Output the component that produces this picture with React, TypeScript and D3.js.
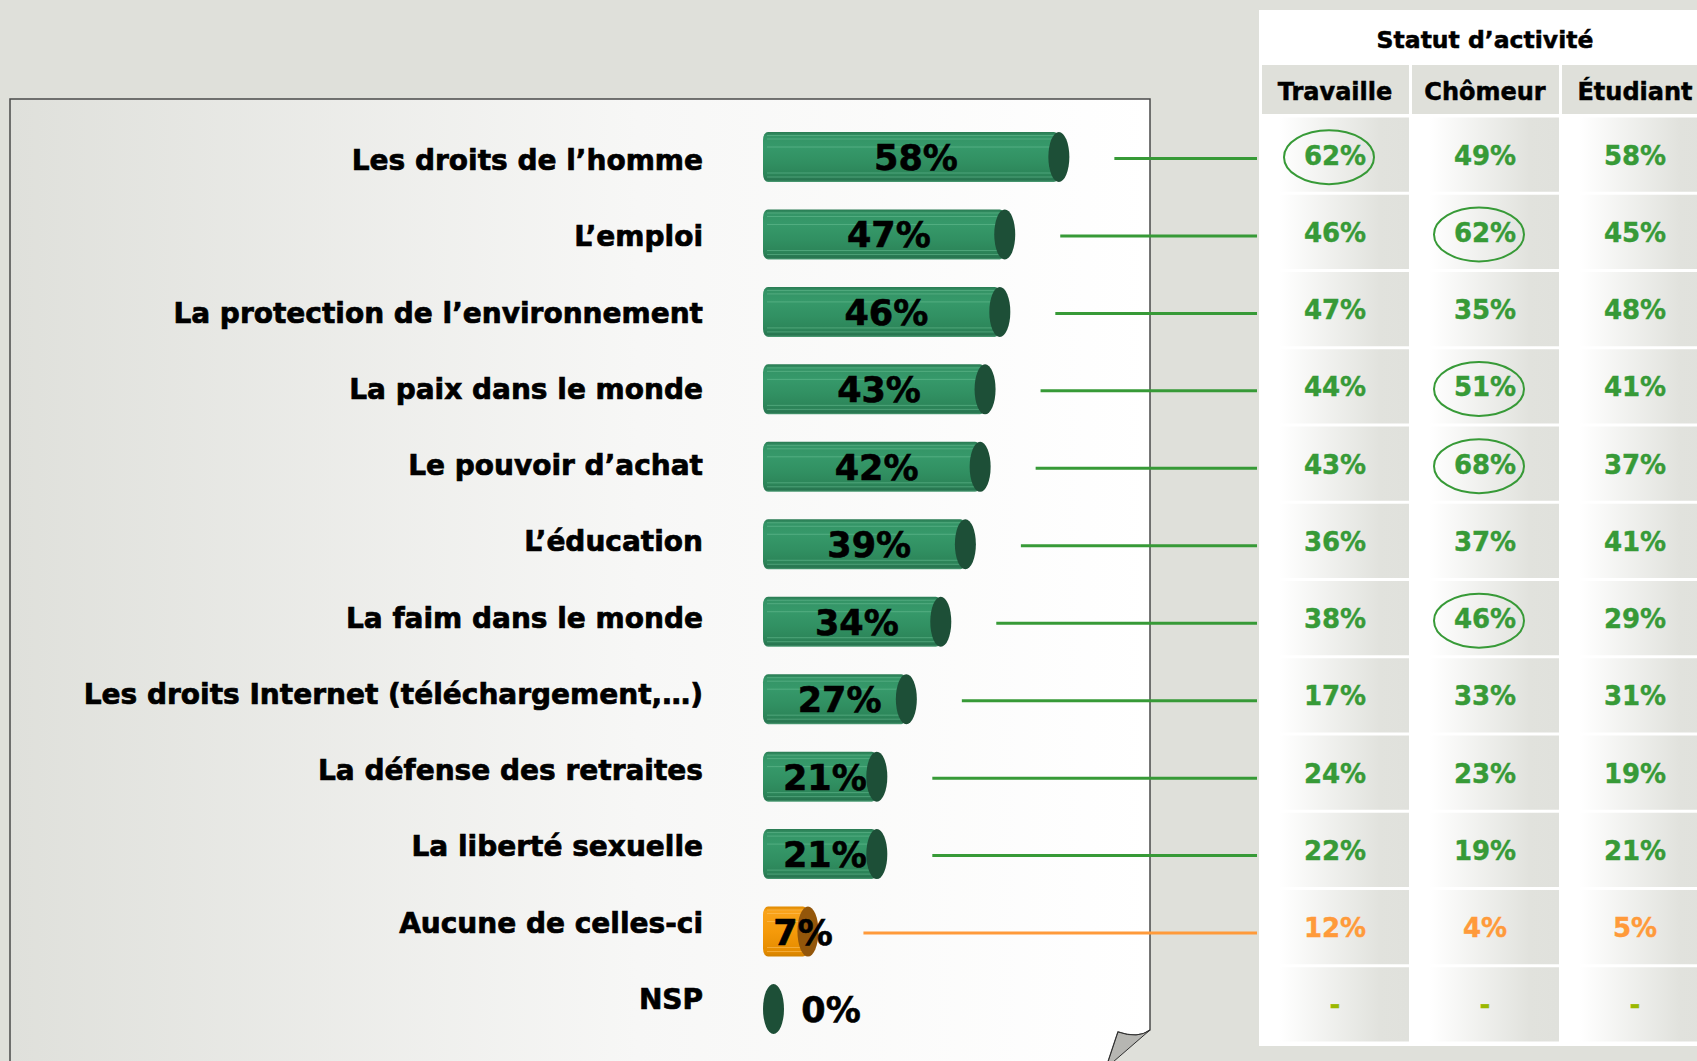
import React from 'react';
import * as d3 from 'd3';

// valeurs
const categories = [
  'Les droits de l\u2019homme',
  'L\u2019emploi',
  'La protection de l\u2019environnement',
  'La paix dans le monde',
  'Le pouvoir d\u2019achat',
  'L\u2019éducation',
  'La faim dans le monde',
  'Les droits Internet (téléchargement,\u2026)',
  'La défense des retraites',
  'La liberté sexuelle',
  'Aucune de celles-ci',
  'NSP',
];
const ensemble = [58, 47, 46, 43, 42, 39, 34, 27, 21, 21, 7, 0];
const kinds = ['g', 'g', 'g', 'g', 'g', 'g', 'g', 'g', 'g', 'g', 'o', 'n'];

const columns = ['Travaille', 'Chômeur', 'Étudiant'];
const travaille = [62, 46, 47, 44, 43, 36, 38, 17, 24, 22, 12, null];
const chomeur = [49, 62, 35, 51, 68, 37, 46, 33, 23, 19, 4, null];
const etudiant = [58, 45, 48, 41, 37, 41, 29, 31, 19, 21, 5, null];
const tableValues = [travaille, chomeur, etudiant];
// cellules entourées : [ligne, colonne]
const circled = [[0, 0], [1, 1], [3, 1], [4, 1], [6, 1]];

const title = 'Statut d\u2019activité';

const W = 1697;
const H = 1061;
const FONT = '"DejaVu Sans", Verdana, sans-serif';
const BG = '#dfe0da';
const GREEN = '#379a37';
const ORANGE = '#ff9a3a';
const DASH = '#9ab800';

const App = () => {
  const idx = categories.map((_, i) => i);

  // lignes
  const barY = d3.scalePoint<number>().domain(idx).range([157, 1009]);
  const labelY = d3.scalePoint<number>().domain(idx).range([160, 999]);
  const rowBand = d3.scaleBand<number>().domain(idx).range([116, 1043]);
  const colBand = d3.scaleBand<string>().domain(columns).range([1261, 1711]);

  // longueur des barres
  const x0 = 763;
  const capRx = 10.5;
  const barH = 50;
  const len = d3.scaleLinear().domain([0, 100]).range([0, 492]);
  const tableLeft = 1259;

  const colorsFor = (k: string) =>
    k === 'o'
      ? { grad: 'url(#barO)', cap: '#93560a', line: ORANGE, stripe: '#ffc566', text: ORANGE }
      : { grad: 'url(#barG)', cap: '#1d4f37', line: GREEN, stripe: '#6cc096', text: GREEN };

  // texte gras un peu épaissi
  const bold = (fill: string, w = 0.6) => ({
    fontFamily: FONT,
    fontWeight: 'bold' as const,
    fill,
    stroke: fill,
    strokeWidth: w,
  });

  return (
    <div style={{ position: 'fixed', left: 0, top: 0 }}>
      <svg width={W} height={H} style={{ display: 'block' }}>
        <defs>
          <linearGradient id="panel" x1="0" x2="1" y1="0" y2="0">
            <stop offset="0" stopColor="#dfe0db" />
            <stop offset="0.55" stopColor="#f7f7f6" />
            <stop offset="1" stopColor="#ffffff" />
          </linearGradient>
          <linearGradient id="cell" x1="0" x2="1" y1="0" y2="0">
            <stop offset="0.12" stopColor="#ffffff" />
            <stop offset="0.8" stopColor="#e1e2dd" />
            <stop offset="1" stopColor="#e0e1dc" />
          </linearGradient>
          <linearGradient id="barG" x1="0" x2="0" y1="0" y2="1">
            <stop offset="0" stopColor="#2a7b53" />
            <stop offset="0.08" stopColor="#349466" />
            <stop offset="0.3" stopColor="#36996a" />
            <stop offset="0.6" stopColor="#319062" />
            <stop offset="0.85" stopColor="#2c8559" />
            <stop offset="0.96" stopColor="#287550" />
            <stop offset="1" stopColor="#4f9f77" />
          </linearGradient>
          <linearGradient id="barO" x1="0" x2="0" y1="0" y2="1">
            <stop offset="0" stopColor="#e08a00" />
            <stop offset="0.1" stopColor="#f9a31a" />
            <stop offset="0.5" stopColor="#f59a0a" />
            <stop offset="0.9" stopColor="#e58c00" />
            <stop offset="1" stopColor="#d08000" />
          </linearGradient>
        </defs>

        <rect x={0} y={0} width={W} height={H} fill={BG} />

        {/* feuille de gauche avec coin replié */}
        <path
          d="M10,1062 V99 H1150 V1030 Q1138,1039 1118,1032 L1108,1062 Z"
          fill="url(#panel)"
          stroke="#4a4a4a"
          strokeWidth={1.5}
        />
        <path
          d="M1118,1032 Q1138,1039 1150,1030 L1113,1062 L1108,1062 Z"
          fill="#b6b6b2"
          stroke="#2e2e2e"
          strokeWidth={1}
        />

        {/* tableau */}
        <rect x={tableLeft} y={10} width={W - tableLeft + 20} height={1036} fill="#ffffff" />
        <text
          x={(colBand('Chômeur') as number) + colBand.bandwidth() / 2 - 1}
          y={48}
          textAnchor="middle"
          fontSize={23.5}
          {...bold('#000', 0.5)}
        >
          {title}
        </text>
        {columns.map((c) => (
          <g key={c}>
            <rect x={(colBand(c) as number) + 1} y={65} width={colBand.bandwidth() - 3} height={49} fill="#dfe0da" />
            <text
              x={(colBand(c) as number) + colBand.bandwidth() / 2 - 1}
              y={100}
              textAnchor="middle"
              fontSize={24}
              {...bold('#000', 0.5)}
            >
              {c}
            </text>
          </g>
        ))}
        {columns.map((c, ci) =>
          idx.map((i) => {
            const v = tableValues[ci][i];
            const cx = (colBand(c) as number) + colBand.bandwidth() / 2 - 1;
            const cy = (rowBand(i) as number) + rowBand.bandwidth() / 2;
            const k = kinds[i];
            const fill = k === 'n' ? DASH : colorsFor(k).text;
            return (
              <g key={c + i}>
                <rect
                  x={(colBand(c) as number) + 1}
                  y={(rowBand(i) as number) + 1.5}
                  width={colBand.bandwidth() - 3}
                  height={rowBand.bandwidth() - 3}
                  fill="url(#cell)"
                />
                <text x={cx} y={cy + 10} textAnchor="middle" fontSize={26} {...bold(fill, 0.4)}>
                  {v === null ? '-' : `${v}%`}
                </text>
              </g>
            );
          })
        )}
        {circled.map(([r, ci]) => (
          <ellipse
            key={`e${r}-${ci}`}
            cx={(colBand(columns[ci]) as number) + colBand.bandwidth() / 2 - 7}
            cy={(rowBand(r) as number) + rowBand.bandwidth() / 2 + 2.5}
            rx={45}
            ry={27}
            fill="none"
            stroke={GREEN}
            strokeWidth={2}
          />
        ))}

        {/* libellés */}
        {categories.map((c, i) => (
          <text
            key={c}
            x={703}
            y={(labelY(i) as number) + 10}
            textAnchor="end"
            fontSize={28}
            {...bold('#000', 0.7)}
          >
            {c}
          </text>
        ))}

        {/* barres cylindriques */}
        {ensemble.map((v, i) => {
          const k = kinds[i];
          const col = colorsFor(k);
          const cy = barY(i) as number;
          const top = cy - barH / 2;
          const capX = x0 + capRx + len(v);
          const bodyW = capX - x0;
          const stripes = [0.07, 0.14, 0.3, 0.82, 0.9];
          const textX = v === 0 ? capX + capRx + 47 : Math.max((x0 + capX) / 2 + 5, x0 + 40);
          return (
            <g key={'b' + i}>
              {v > 0 && (
                <g>
                  <rect x={x0} y={top} width={bodyW} height={barH} rx={5} ry={8} fill={col.grad} />
                  {stripes.map((s) => (
                    <line
                      key={s}
                      x1={x0 + 4}
                      x2={capX}
                      y1={top + s * barH}
                      y2={top + s * barH}
                      stroke={col.stripe}
                      strokeOpacity={0.55}
                      strokeWidth={1}
                    />
                  ))}
                </g>
              )}
              <ellipse cx={capX} cy={cy} rx={capRx} ry={barH / 2} fill={k === 'n' ? '#1d4f37' : col.cap} />
              <text x={textX} y={cy + 13} textAnchor="middle" fontSize={35} {...bold('#000', 0.6)}>
                {`${v}%`}
              </text>
              {k !== 'n' && (
                <line
                  x1={capX + capRx + 45}
                  x2={tableLeft - 2}
                  y1={cy + 1.5}
                  y2={cy + 1.5}
                  stroke={col.line}
                  strokeWidth={3}
                />
              )}
            </g>
          );
        })}
      </svg>
    </div>
  );
};

export default App;
